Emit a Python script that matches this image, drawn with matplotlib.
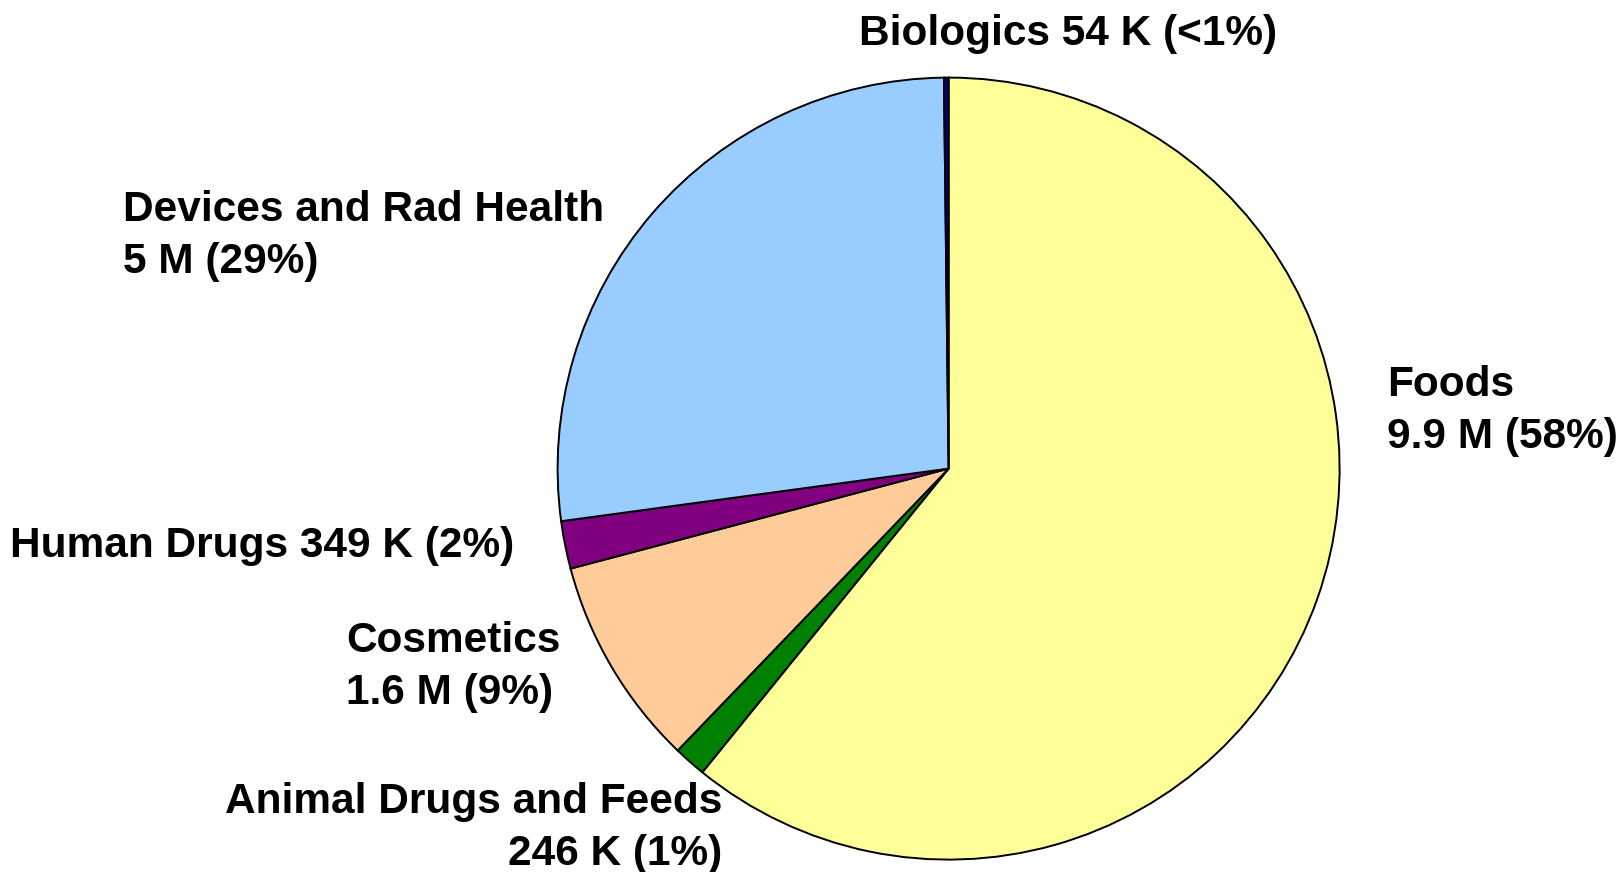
import matplotlib.pyplot as plt

plt.rcParams['font.family'] = ['Liberation Sans', 'DejaVu Sans']

# slices in drawing order, clockwise from 12 o'clock
categories = ['Foods', 'Animal Drugs and Feeds', 'Cosmetics', 'Human Drugs',
              'Devices and Rad Health', 'Biologics']
# label text as printed on the chart
label_amounts = ['9.9 M', '246 K', '1.6 M', '349 K', '5 M', '54 K']
label_pcts = ['58%', '1%', '9%', '2%', '29%', '<1%']
# slice shares (%)
shares = [60.85, 1.34, 8.70, 1.97, 26.96, 0.19]
colors = ['#FFFF99', '#008000', '#FFCC99', '#800080', '#99CCFF', '#000080']

W, H = 1622, 872
fig = plt.figure(figsize=(W / 100, H / 100), dpi=100)
ax = fig.add_axes([0, 0, 1, 1])

cx, cy, r = 948.6, H - 468.6, 391
ax.pie(shares, colors=colors, startangle=90, counterclock=False,
       center=(cx, cy), radius=r, frame=True,
       wedgeprops=dict(edgecolor='black', linewidth=1.4))
ax.set_xlim(0, W)
ax.set_ylim(0, H)
ax.set_aspect('equal')
ax.axis('off')

fs = 30.5


def put(x, y, s, ha='left'):
    # y given in pixels from the top
    ax.text(x, H - y, s, ha=ha, va='center', multialignment=ha,
            fontsize=fs, fontweight='bold', linespacing=1.36)


lab = {c: f"{a} ({p})" for c, a, p in zip(categories, label_amounts, label_pcts)}
put(859, 34, f"Biologics {lab['Biologics']}")
put(123, 236, f"Devices and Rad Health\n{lab['Devices and Rad Health']}")
put(1387, 411, f"Foods\n{lab['Foods']}")
put(10, 546, f"Human Drugs {lab['Human Drugs']}")
put(346, 667, f"Cosmetics\n{lab['Cosmetics']}")
put(722, 828, f"Animal Drugs and Feeds\n{lab['Animal Drugs and Feeds']}", ha='right')

fig.savefig('out.png', dpi=100, facecolor='white')
